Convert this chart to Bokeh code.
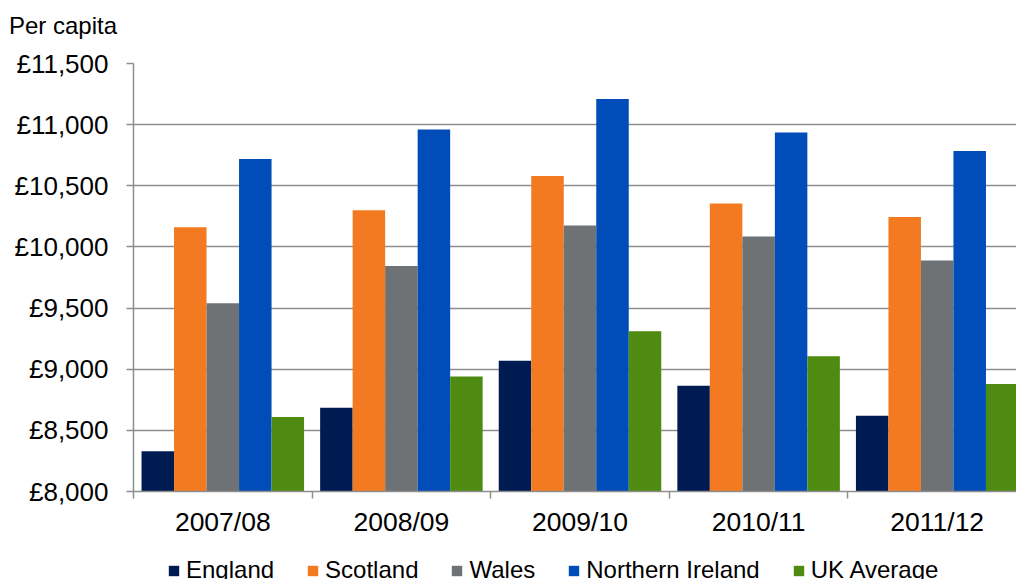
from bokeh.plotting import figure
from bokeh.layouts import column
from bokeh.models import ColumnDataSource, Range1d, FixedTicker, Legend, LegendItem, Div
from bokeh.transform import dodge
from bokeh.embed import file_html
from bokeh.resources import INLINE

# ---- data ----
years = ["2007/08", "2008/09", "2009/10", "2010/11", "2011/12"]
england = [8330, 8685, 9070, 8865, 8620]
scotland = [10160, 10300, 10580, 10355, 10245]
wales = [9540, 9845, 10175, 10085, 9890]
northern_ireland = [10720, 10960, 11210, 10935, 10785]
uk_average = [8610, 8940, 9310, 9105, 8880]
series_names = ["England", "Scotland", "Wales", "Northern Ireland", "UK Average"]
series_colors = ["#001B52", "#F47A21", "#6E7275", "#004CB8", "#4F8A11"]
y_ticks = [8000, 8500, 9000, 9500, 10000, 10500, 11000, 11500]
heading = "Per capita"

FONT = "Liberation Sans"
GRID = "#8E8E8E"

centers = [i + 0.5 for i in range(len(years))]
bounds = list(range(len(years) + 1))

data = {"x": centers}
for name, vals in zip(series_names, [england, scotland, wales, northern_ireland, uk_average]):
    data[name] = vals
src = ColumnDataSource(data)

# heading strip
head = Div(text=heading, width=1016, height=40, margin=0,
           styles={"font-family": FONT, "font-size": "24px", "color": "#000000",
                   "line-height": "normal", "padding-left": "9px", "padding-top": "12px",
                   "box-sizing": "border-box"})

p = figure(width=1016, height=505,
           x_range=Range1d(0, 4.944), y_range=Range1d(y_ticks[0], y_ticks[-1]),
           toolbar_location=None, output_backend="svg",
           min_border_left=133, min_border_right=0, min_border_top=23, min_border_bottom=54)
p.outline_line_color = None
p.background_fill_color = "white"
p.border_fill_color = "white"

bar_w = 0.182
for k, (name, col) in enumerate(zip(series_names, series_colors)):
    off = (k - 2) * bar_w
    p.vbar(x=dodge("x", off), top=name, bottom=y_ticks[0], width=bar_w,
           source=src, fill_color=col, line_color=None)

# grid
p.xgrid.grid_line_color = None
p.ygrid.grid_line_color = GRID
p.ygrid.grid_line_width = 1.5

# y axis
p.yaxis.ticker = FixedTicker(ticks=y_ticks)
p.yaxis.major_label_overrides = {t: "£{:,}".format(t) for t in y_ticks}
p.yaxis.major_tick_out = 7
p.yaxis.major_tick_in = 0
p.yaxis.minor_tick_line_color = None
p.yaxis.axis_line_color = GRID
p.yaxis.axis_line_width = 1.5
p.yaxis.major_tick_line_color = GRID
p.yaxis.major_tick_line_width = 1.5
p.yaxis.major_label_text_font = FONT
p.yaxis.major_label_text_font_size = "26px"
p.yaxis.major_label_text_color = "#000000"
p.yaxis.major_label_standoff = 18

# x axis
p.xaxis.ticker = FixedTicker(ticks=centers, minor_ticks=bounds)
p.xaxis.major_label_overrides = {c: y for c, y in zip(centers, years)}
p.xaxis.major_tick_out = 0
p.xaxis.major_tick_in = 0
p.xaxis.major_tick_line_color = None
p.xaxis.minor_tick_out = 7
p.xaxis.minor_tick_in = 0
p.xaxis.minor_tick_line_color = GRID
p.xaxis.minor_tick_line_width = 1.5
p.xaxis.axis_line_color = GRID
p.xaxis.axis_line_width = 1.5
p.xaxis.major_label_text_font = FONT
p.xaxis.major_label_text_font_size = "26.5px"
p.xaxis.major_label_text_color = "#000000"
p.xaxis.major_label_standoff = 8

# legend strip: zero-size copies of the series carry the legend swatches
pl = figure(width=1016, height=34, x_range=Range1d(0, 4.944),
            y_range=Range1d(y_ticks[0], y_ticks[-1]),
            x_axis_type=None, y_axis_type=None, toolbar_location=None,
            output_backend="svg", min_border=0)
pl.outline_line_color = None
pl.background_fill_color = "white"
items = []
for k, (name, col) in enumerate(zip(series_names, series_colors)):
    off = (k - 2) * bar_w
    r = pl.vbar(x=dodge("x", off), top=name, bottom=name, width=0,
                source=src, fill_color=col, line_color=None)
    items.append(LegendItem(label=name, renderers=[r]))
legend = Legend(items=items, orientation="horizontal", location=(34, -5),
                glyph_width=13, glyph_height=13, label_standoff=6, spacing=32,
                padding=0, margin=0, border_line_color=None, background_fill_alpha=0,
                label_text_font=FONT, label_text_font_size="24px",
                label_text_color="#000000")
pl.add_layout(legend, "center")

layout = column(head, p, pl, spacing=0)
open("out.html", "w").write(file_html(layout, INLINE))
